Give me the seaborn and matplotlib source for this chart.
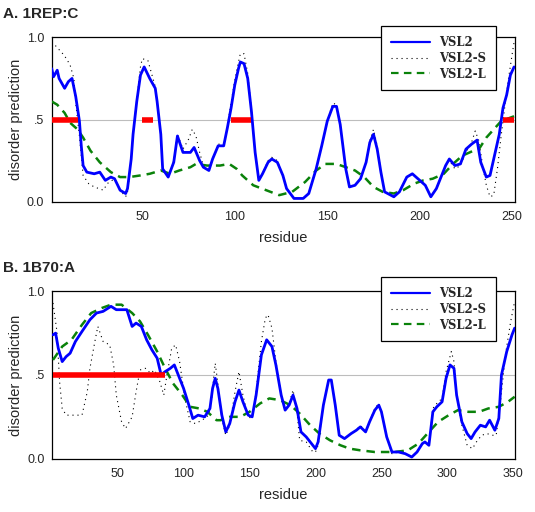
import numpy as np
import pandas as pd
import matplotlib
matplotlib.use("Agg")
import matplotlib.pyplot as plt
import seaborn as sns

# ---- panel A: 1REP:C ----
a_vsl2_res = [1, 2, 4, 5, 8, 10, 12, 14, 16, 17, 18, 20, 24, 27, 30, 33, 35, 38, 41, 42, 44, 45, 47, 49,
              51, 54, 57, 58, 60, 61, 64, 67, 69, 72, 76, 78, 81, 83, 86, 88, 91, 94, 96, 98, 100, 102,
              103, 105, 107, 109, 111, 113, 115, 118, 120, 123, 126, 128, 132, 137, 140, 144, 147, 150,
              153, 155, 157, 160, 162, 165, 168, 171, 173, 175, 177, 179, 181, 186, 189, 193, 196, 199,
              203, 206, 209, 214, 216, 219, 222, 225, 228, 231, 233, 236, 238, 240, 243, 245, 247, 249, 251]
a_vsl2_val = [.81, .76, .80, .75, .69, .73, .75, .64, .49, .34, .22, .18, .17, .18, .13, .15, .14, .07, .05,
              .08, .26, .41, .61, .77, .82, .75, .69, .61, .41, .20, .15, .24, .40, .30, .30, .33, .25, .21,
              .19, .26, .34, .34, .45, .57, .71, .81, .85, .84, .75, .55, .30, .13, .17, .24, .26, .24, .16,
              .08, .02, .02, .05, .20, .34, .49, .58, .58, .47, .20, .09, .10, .14, .24, .36, .41, .32, .18,
              .06, .03, .06, .15, .17, .14, .10, .03, .08, .22, .26, .22, .23, .32, .35, .375, .24, .15, .16,
              .26, .41, .57, .65, .77, .82]

a_vsls_res = [1, 3, 7, 9, 11, 13, 14, 16, 17, 18, 21, 24, 29, 31, 35, 38, 41, 42, 44, 45, 47, 49, 50, 53,
              55, 57, 58, 60, 61, 64, 67, 69, 72, 75, 77, 79, 81, 83, 86, 88, 91, 94, 96, 98, 100, 102, 103,
              105, 107, 109, 111, 113, 115, 118, 120, 123, 126, 128, 132, 137, 140, 144, 147, 150, 153, 155,
              157, 160, 162, 165, 168, 171, 173, 175, 177, 179, 181, 186, 189, 193, 196, 199, 203, 206, 209,
              214, 216, 219, 222, 225, 228, 230, 232, 234, 236, 238, 240, 242, 244, 246, 248, 250, 251]
a_vsls_val = [.97, .95, .90, .87, .83, .75, .60, .40, .28, .16, .11, .09, .07, .11, .14, .07, .03, .06, .26,
              .41, .62, .82, .87, .86, .78, .70, .61, .41, .20, .15, .25, .41, .32, .38, .44, .40, .30, .22,
              .19, .26, .35, .35, .46, .60, .74, .85, .90, .90, .78, .56, .30, .13, .17, .25, .27, .25, .16,
              .08, .02, .02, .05, .20, .34, .49, .60, .59, .47, .20, .09, .10, .14, .24, .37, .44, .34, .18,
              .06, .03, .06, .15, .17, .14, .10, .03, .08, .22, .25, .20, .22, .30, .36, .43, .37, .22, .10,
              .03, .04, .20, .40, .58, .75, .90, .97]

a_vsll_res = [1, 4, 8, 11, 15, 18, 22, 27, 33, 38, 43, 49, 54, 60, 65, 70, 76, 79, 85, 92, 97, 101, 104,
              110, 117, 124, 131, 138, 144, 149, 155, 160, 165, 170, 175, 180, 186, 191, 197, 202, 207,
              213, 218, 223, 229, 232, 236, 240, 244, 251]
a_vsll_val = [.61, .59, .54, .48, .44, .39, .31, .24, .18, .15, .15, .16, .17, .19, .17, .19, .21, .23, .22,
              .22, .23, .20, .16, .10, .07, .04, .06, .12, .19, .23, .23, .21, .19, .15, .09, .06, .05, .07,
              .11, .13, .14, .17, .23, .28, .31, .32, .39, .44, .49, .52]

a_disorder = [(1, 15), (50, 56), (98, 109), (245, 251)]

# ---- panel B: 1B70:A ----
b_vsl2_res = [1, 3, 5, 8, 11, 14, 18, 23, 29, 34, 39, 45, 49, 57, 61, 64, 68, 72, 76, 80, 83, 86, 90, 93,
              96, 100, 104, 107, 111, 116, 120, 122, 124, 126, 129, 132, 135, 139, 142, 145, 149, 152, 155,
              159, 163, 167, 170, 174, 177, 180, 183, 186, 189, 193, 197, 200, 202, 206, 210, 212, 215, 218,
              222, 227, 231, 234, 238, 241, 245, 248, 250, 254, 258, 263, 268, 273, 277, 281, 283, 286, 289,
              292, 296, 299, 302, 305, 307, 311, 315, 318, 321, 325, 329, 332, 336, 339, 341, 345, 349, 351]
b_vsl2_val = [.74, .75, .66, .58, .61, .63, .70, .76, .83, .87, .88, .91, .89, .89, .79, .81, .79, .71, .65,
              .60, .50, .52, .54, .56, .50, .42, .32, .24, .26, .25, .30, .42, .48, .42, .26, .16, .21, .34,
              .41, .34, .26, .25, .38, .62, .71, .67, .56, .38, .29, .32, .38, .30, .16, .13, .09, .06, .10,
              .32, .47, .47, .32, .14, .12, .15, .17, .19, .16, .22, .29, .32, .28, .13, .04, .04, .03, .01,
              .04, .09, .10, .08, .28, .31, .34, .48, .56, .54, .38, .22, .15, .12, .16, .20, .19, .23, .17,
              .24, .50, .64, .74, .78]

b_vsls_res = [1, 4, 6, 8, 11, 16, 23, 27, 29, 33, 35, 39, 44, 47, 49, 53, 56, 61, 64, 67, 71, 75, 78, 82,
              85, 87, 91, 94, 97, 101, 105, 109, 114, 119, 121, 123, 124, 126, 129, 132, 135, 139, 142, 145,
              149, 152, 155, 159, 162, 164, 167, 170, 174, 177, 180, 183, 186, 188, 193, 198, 200, 202, 206,
              210, 212, 215, 218, 222, 227, 231, 234, 238, 241, 245, 248, 250, 254, 258, 263, 268, 273, 277,
              281, 283, 286, 289, 292, 296, 299, 303, 305, 307, 311, 315, 319, 322, 326, 330, 334, 337, 340,
              344, 348, 351]
b_vsls_val = [.93, .76, .46, .30, .26, .26, .26, .40, .54, .71, .79, .70, .68, .56, .38, .22, .18, .25, .40,
              .53, .54, .51, .53, .46, .38, .48, .66, .68, .58, .36, .22, .21, .23, .26, .33, .50, .57, .45,
              .24, .14, .20, .40, .52, .38, .25, .24, .40, .70, .84, .86, .78, .58, .38, .29, .33, .41, .28,
              .11, .10, .04, .04, .08, .32, .47, .47, .32, .14, .12, .15, .17, .20, .16, .22, .30, .33, .28,
              .13, .03, .04, .03, .01, .04, .09, .10, .08, .30, .33, .36, .52, .64, .58, .38, .20, .08, .06,
              .10, .14, .15, .14, .14, .32, .62, .82, .94]

b_vsll_res = [1, 8, 15, 23, 30, 38, 45, 53, 61, 67, 73, 80, 86, 92, 99, 105, 112, 118, 125, 128, 135, 143,
              150, 158, 165, 173, 181, 188, 196, 203, 211, 219, 226, 234, 245, 260, 270, 278, 286, 293, 301,
              308, 316, 324, 331, 339, 346, 351]
b_vsll_val = [.59, .67, .71, .80, .87, .90, .92, .92, .87, .82, .74, .64, .54, .45, .38, .31, .30, .28, .23,
              .23, .25, .25, .28, .33, .36, .35, .32, .27, .20, .15, .11, .08, .06, .05, .04, .04, .05, .09,
              .16, .22, .26, .29, .28, .28, .30, .31, .34, .37]

b_disorder = [(1, 86)]

panels = [
    ("A. 1REP:C", (a_vsl2_res, a_vsl2_val), (a_vsls_res, a_vsls_val), (a_vsll_res, a_vsll_val),
     a_disorder, [50, 100, 150, 200, 250], (1, 251.5)),
    ("B. 1B70:A", (b_vsl2_res, b_vsl2_val), (b_vsls_res, b_vsls_val), (b_vsll_res, b_vsll_val),
     b_disorder, [50, 100, 150, 200, 250, 300, 350], (0.5, 351.3)),
]

sns.set_style("white")
plt.rcParams["font.family"] = ["Liberation Sans", "DejaVu Sans"]

fig = plt.figure(figsize=(5.35, 5.12), dpi=100)
rects = [[0.0966, 0.606, 0.866, 0.3211], [0.0978, 0.1041, 0.8649, 0.327]]
title_y = [0.973, 0.476]
legend_top = [(512 - 26) / 512, (512 - 277) / 512]

for i, (title, s2, ss, sl, dis, xt, xl) in enumerate(panels):
    ax = fig.add_axes(rects[i])
    ax.axhline(0.5, color="#bdbdbd", lw=0.8, zorder=1)
    df2 = pd.DataFrame({"residue": s2[0], "p": s2[1]})
    dfs = pd.DataFrame({"residue": ss[0], "p": ss[1]})
    dfl = pd.DataFrame({"residue": sl[0], "p": sl[1]})
    sns.lineplot(data=dfs, x="residue", y="p", ax=ax, color="black", lw=0.8,
                 linestyle=(0, (1, 3.5)), label="VSL2-S", zorder=3)
    sns.lineplot(data=dfl, x="residue", y="p", ax=ax, color="#0a820a", lw=1.8,
                 linestyle=(0, (3.4, 2.4)), label="VSL2-L", zorder=4)
    sns.lineplot(data=df2, x="residue", y="p", ax=ax, color="#0000ff", lw=2.0,
                 label="VSL2", zorder=5)
    # disorder regions along the 0.5 threshold
    for s, e in dis:
        ax.plot([s, e], [0.5, 0.5], color="#ff0000", lw=4, solid_capstyle="butt", zorder=6)

    ax.set_xlim(*xl)
    ax.set_ylim(0, 1)
    ax.set_xticks(xt)
    ax.set_yticks([0, 0.5, 1.0])
    ax.set_yticklabels(["0.0", ".5", "1.0"])
    ax.tick_params(axis="x", direction="in", length=3, width=0.8, pad=6.5, labelsize=9, color="black")
    ax.tick_params(axis="y", length=0, pad=5.5, labelsize=9)
    for sp in ax.spines.values():
        sp.set_color("black")
        sp.set_linewidth(0.9)
    ax.set_xlabel("residue", fontsize=10.5, labelpad=6)
    ax.set_ylabel("disorder prediction", fontsize=10.5, labelpad=3)

    h, l = ax.get_legend_handles_labels()
    order = [l.index("VSL2"), l.index("VSL2-S"), l.index("VSL2-L")]
    leg = ax.legend([h[k] for k in order], [l[k] for k in order],
                    loc="upper right", bbox_to_anchor=(496 / 535, legend_top[i]),
                    bbox_transform=fig.transFigure, borderaxespad=0,
                    prop={"family": "DejaVu Serif", "weight": "bold", "size": 8.4},
                    handlelength=3.35, handletextpad=0.8, labelspacing=0.24,
                    borderpad=0.85, fancybox=False, framealpha=1, edgecolor="black")
    leg.get_frame().set_linewidth(0.9)
    leg.set_zorder(10)
    legend_lines = leg.get_lines()
    legend_lines[0].set_linewidth(1.6)
    legend_lines[2].set_linewidth(1.6)

    fig.text(0.005, title_y[i], title, fontsize=11, fontweight="bold", va="center", ha="left")

fig.savefig("out.png", dpi=100)
